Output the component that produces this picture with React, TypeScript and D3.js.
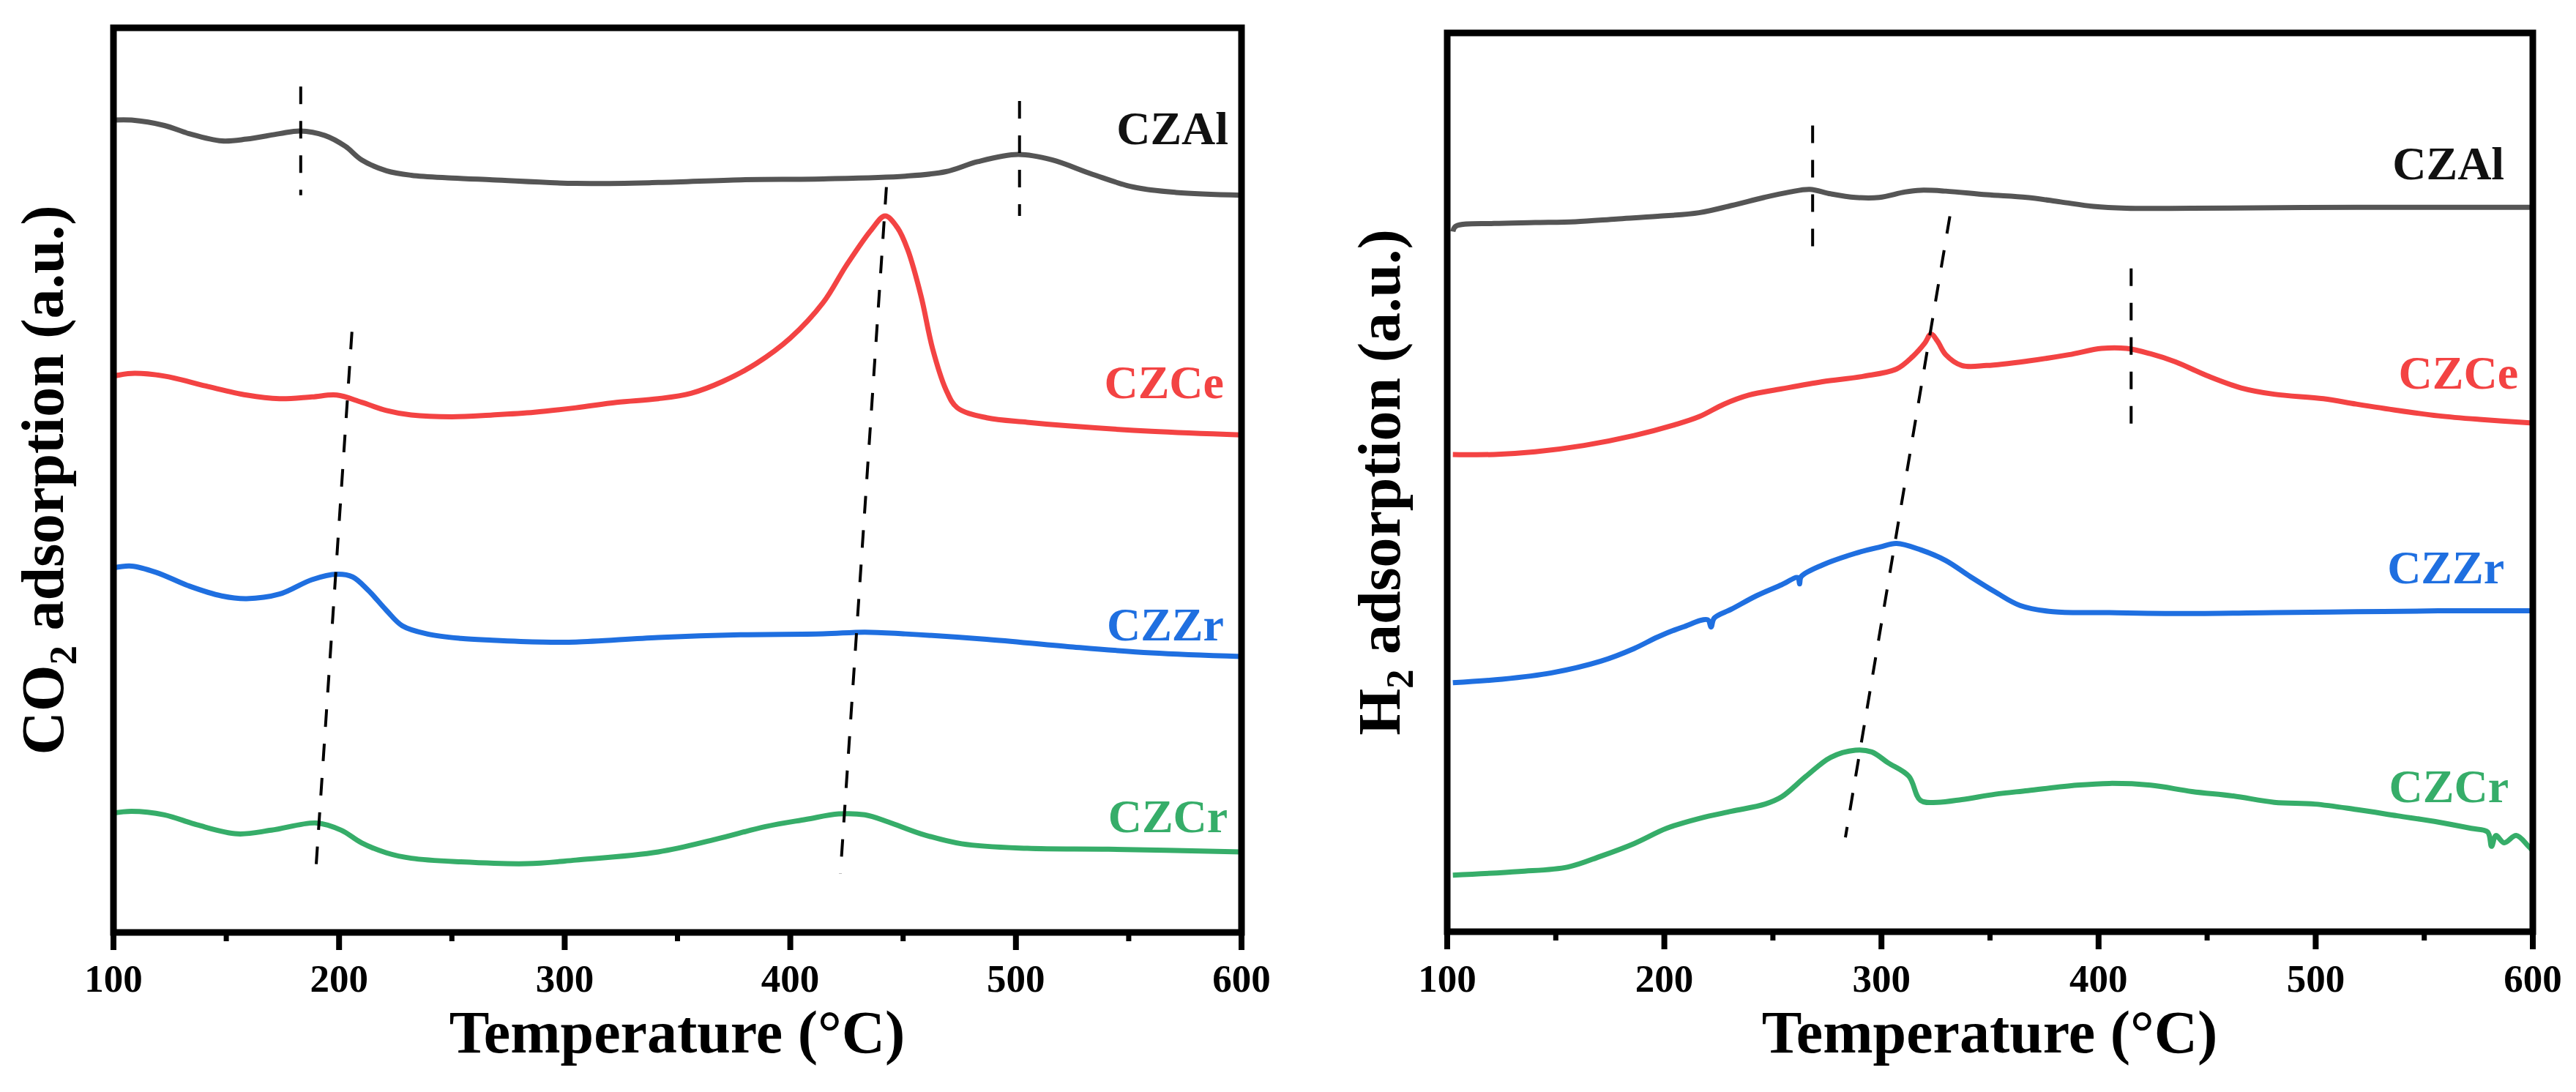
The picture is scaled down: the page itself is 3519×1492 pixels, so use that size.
import { useRef, useEffect } from "react";
import * as d3 from "d3";

type Pt = [number, number];

const tempTicks = [100, 200, 300, 400, 500, 600];
const minorTicks = [150, 250, 350, 450, 550];
const sampleNames = ["CZAl", "CZCe", "CZZr", "CZCr"];
const lineColors = ["#555555", "#f34343", "#1f6fe0", "#36ad69"];
const labelColors = ["#111111", "#f34343", "#1f6fe0", "#36ad69"];

// CO2-TPD traces, [temperature °C, intensity a.u.]
const co2CZAl: Pt[] = [
  [100, 89.8], [108, 89.8], [122.6, 89.2], [133.5, 88.3], [148, 87.5], [159, 87.7],
  [173.6, 88.3], [182.7, 88.6], [193.7, 88.1], [202.8, 86.9], [210, 85.4], [221, 84.2],
  [232, 83.7], [250, 83.4], [268, 83.2], [305, 82.8], [341.5, 82.9], [378, 83.2],
  [414.5, 83.3], [451, 83.6], [469, 84.1], [483, 85.2], [501, 86.0], [516, 85.4],
  [534, 83.8], [552, 82.4], [571, 81.8], [600, 81.5],
];
const co2CZCe: Pt[] = [
  [100, 61.5], [108, 61.8], [122.6, 61.5], [141, 60.4], [159, 59.4], [173.6, 59.0],
  [188, 59.2], [199, 59.4], [210, 58.6], [221, 57.7], [232, 57.2], [250, 57.0],
  [268, 57.2], [286.6, 57.5], [305, 58.0], [323, 58.6], [341.5, 59.0], [356, 59.6],
  [370, 60.9], [385, 62.9], [400, 65.7], [414.5, 69.6], [425, 73.8], [436, 77.7],
  [442, 79.2], [447.5, 77.9], [452, 75.5], [458, 70.3], [463, 64.6], [469, 60.0],
  [474, 58.0], [487, 56.9], [505, 56.4], [523, 56.0], [560, 55.4], [600, 55.0],
];
const co2CZZr: Pt[] = [
  [100, 40.3], [108, 40.5], [119, 39.8], [133.5, 38.3], [148, 37.2], [159, 36.9],
  [173.6, 37.4], [188, 39.0], [199, 39.6], [206, 39.3], [213, 37.8], [221, 35.6],
  [228, 33.9], [239, 33.0], [254, 32.5], [268, 32.3], [290, 32.1], [305, 32.1],
  [341.5, 32.6], [378, 32.9], [414.5, 33.0], [433, 33.2], [451, 33.0], [487, 32.4],
  [523, 31.6], [560, 30.9], [600, 30.5],
];
const co2CZCr: Pt[] = [
  [100, 13.2], [108, 13.4], [122.6, 13.0], [137, 11.9], [155, 10.9], [170, 11.3],
  [190, 12.1], [201, 11.3], [210, 9.9], [221, 8.8], [232, 8.2], [254, 7.8],
  [283, 7.6], [305, 8.0], [341.5, 8.9], [367, 10.3], [389, 11.7], [407, 12.5],
  [421.5, 13.1], [433, 13.0], [443.6, 12.2], [458, 10.9], [476, 9.8], [505, 9.3],
  [541, 9.2], [600, 8.9],
];

// H2-TPD traces
const h2CZAl: Pt[] = [
  [102.6, 77.9], [104, 78.5], [121.6, 78.8], [140.5, 78.9], [159, 79.0], [178, 79.3],
  [197, 79.6], [216, 80.0], [231, 80.8], [246, 81.7], [257.7, 82.3], [267, 82.6],
  [276.6, 82.1], [288, 81.7], [299, 81.7], [310.7, 82.3], [318, 82.5], [329.6, 82.4],
  [348.5, 82.0], [367, 81.7], [382.5, 81.2], [397.6, 80.7], [412.8, 80.5], [443, 80.5],
  [518.7, 80.6], [600, 80.6],
];
const h2CZCe: Pt[] = [
  [102.6, 53.1], [121.6, 53.1], [140.5, 53.4], [163, 54.1], [186, 55.2], [204.8, 56.4],
  [216, 57.3], [227.5, 58.7], [238.8, 59.7], [254, 60.4], [272.8, 61.2], [291.7, 61.8],
  [306.9, 62.6], [314.4, 64.0], [320, 65.5], [322.8, 66.5], [325.8, 65.7], [329.6, 64.2],
  [337, 63.0], [348.5, 63.0], [367.4, 63.5], [386.3, 64.2], [401.4, 64.9], [412.8, 64.9],
  [424, 64.3], [435.5, 63.4], [450.6, 61.8], [465.7, 60.5], [480.9, 59.8], [503.6, 59.3],
  [518.7, 58.7], [537.6, 58.0], [556.5, 57.4], [575.4, 57.0], [600, 56.6],
];
const h2CZZr: Pt[] = [
  [102.6, 27.7], [125.3, 28.1], [148, 28.8], [170.7, 30.1], [186, 31.5], [197, 32.8],
  [208.5, 33.9], [220, 34.7], [221.5, 33.9], [223, 34.9], [231, 35.9], [242.6, 37.4],
  [254, 38.6], [261.5, 39.4], [262.3, 38.7], [263, 39.5], [272.8, 40.8], [288, 42.1],
  [299.3, 42.8], [306.9, 43.2], [318, 42.5], [329.6, 41.3], [341, 39.5], [352.4, 37.8],
  [363.8, 36.3], [379, 35.6], [405, 35.5], [443, 35.4], [480.9, 35.5], [518.7, 35.6],
  [556.5, 35.7], [600, 35.7],
];
const h2CZCr: Pt[] = [
  [102.6, 6.3], [133, 6.7], [155.6, 7.2], [170.7, 8.4], [186, 9.8], [201, 11.5],
  [216, 12.6], [231, 13.4], [246.4, 14.2], [254, 15.0], [265.3, 17.3], [276.6, 19.4],
  [288, 20.2], [295.5, 20.0], [303, 18.8], [312.6, 17.3], [318, 14.6], [325.8, 14.4],
  [337, 14.7], [352.4, 15.3], [367.4, 15.7], [390, 16.3], [405, 16.5], [424, 16.3],
  [443, 15.6], [462, 15.1], [480.9, 14.4], [499.6, 14.2], [518.7, 13.6], [537.6, 12.9],
  [556.5, 12.2], [571.6, 11.5], [579.2, 11.1], [581, 9.5], [583, 10.7], [586.8, 9.9],
  [592.4, 10.7], [598, 9.5], [600, 9.0],
];

// guide lines through the peak maxima, [[t1, v1], [t2, v2]]
const co2Guides: [Pt, Pt][] = [
  [[183, 93.5], [183, 81.5]],
  [[501.6, 91.9], [501.6, 79.2]],
  [[205.7, 66.4], [189.7, 6.9]],
  [[442.6, 82.4], [422.2, 6.5]],
];
const h2Guides: [Pt, Pt][] = [
  [[268.3, 89.7], [268.3, 76.2]],
  [[415, 73.8], [415, 56.4]],
  [[331.5, 79.6], [283.4, 10.5]],
];

// label anchor (right end of text) in data units
const co2LabelPos: Pt[] = [[594.2, 87.1], [592.2, 59.1], [592.2, 32.3], [593.9, 11.1]];
const h2LabelPos: Pt[] = [[586.9, 83.7], [593.3, 60.4], [586.9, 38.8], [588.9, 14.4]];

const FONT = "'Liberation Serif', 'Times New Roman', serif";

export default function App() {
  const svgRef = useRef<SVGSVGElement | null>(null);

  useEffect(() => {
    const svg = d3.select(svgRef.current);
    svg.selectAll("*").remove();

    const panels = [
      {
        box: { left: 155, top: 38, right: 1696, bottom: 1274 },
        series: [co2CZAl, co2CZCe, co2CZZr, co2CZCr],
        guides: co2Guides,
        labels: co2LabelPos,
        gas: "CO",
        yTitleX: 86,
        xTitleX: 925,
      },
      {
        box: { left: 1977, top: 45, right: 3460, bottom: 1273 },
        series: [h2CZAl, h2CZCe, h2CZZr, h2CZCr],
        guides: h2Guides,
        labels: h2LabelPos,
        gas: "H",
        yTitleX: 1912,
        xTitleX: 2718,
      },
    ];

    panels.forEach((p) => {
      const { left, top, right, bottom } = p.box;
      const x = d3.scaleLinear().domain([100, 600]).range([left, right]);
      const y = d3.scaleLinear().domain([0, 100]).range([bottom, top]);

      const line = d3
        .line<Pt>()
        .x((d) => x(d[0]))
        .y((d) => y(d[1]))
        .curve(d3.curveCatmullRom.alpha(0.5));

      p.series.forEach((s, i) => {
        svg
          .append("path")
          .datum(s)
          .attr("fill", "none")
          .attr("stroke", lineColors[i])
          .attr("stroke-width", 7)
          .attr("stroke-linejoin", "round")
          .attr("d", line);
      });

      p.guides.forEach((g) => {
        svg
          .append("line")
          .attr("x1", x(g[0][0]))
          .attr("y1", y(g[0][1]))
          .attr("x2", x(g[1][0]))
          .attr("y2", y(g[1][1]))
          .attr("stroke", "#000")
          .attr("stroke-width", 4)
          .attr("stroke-dasharray", "24 23");
      });

      p.labels.forEach((pos, i) => {
        svg
          .append("text")
          .attr("x", x(pos[0]))
          .attr("y", y(pos[1]))
          .attr("text-anchor", "end")
          .attr("font-family", FONT)
          .attr("font-weight", "bold")
          .attr("font-size", 64)
          .attr("fill", labelColors[i])
          .text(sampleNames[i]);
      });

      // frame
      svg
        .append("rect")
        .attr("x", left)
        .attr("y", top)
        .attr("width", right - left)
        .attr("height", bottom - top)
        .attr("fill", "none")
        .attr("stroke", "#000")
        .attr("stroke-width", 9);

      svg
        .append("g")
        .selectAll("line")
        .data(tempTicks)
        .join("line")
        .attr("x1", (d) => x(d))
        .attr("x2", (d) => x(d))
        .attr("y1", bottom)
        .attr("y2", bottom + 24)
        .attr("stroke", "#000")
        .attr("stroke-width", 8);

      svg
        .append("g")
        .selectAll("line")
        .data(minorTicks)
        .join("line")
        .attr("x1", (d) => x(d))
        .attr("x2", (d) => x(d))
        .attr("y1", bottom)
        .attr("y2", bottom + 12)
        .attr("stroke", "#000")
        .attr("stroke-width", 7);

      svg
        .append("g")
        .selectAll("text")
        .data(tempTicks)
        .join("text")
        .attr("x", (d) => x(d))
        .attr("y", 1355)
        .attr("text-anchor", "middle")
        .attr("font-family", FONT)
        .attr("font-weight", "bold")
        .attr("font-size", 53)
        .text((d) => d);

      svg
        .append("text")
        .attr("x", p.xTitleX)
        .attr("y", 1438)
        .attr("text-anchor", "middle")
        .attr("font-family", FONT)
        .attr("font-weight", "bold")
        .attr("font-size", 82)
        .text("Temperature (°C)");

      const yt = svg
        .append("text")
        .attr("transform", `translate(${p.yTitleX},${(top + bottom) / 2}) rotate(-90)`)
        .attr("text-anchor", "middle")
        .attr("font-family", FONT)
        .attr("font-weight", "bold")
        .attr("font-size", 82);
      yt.append("tspan").text(p.gas);
      yt.append("tspan").attr("font-size", 53).attr("dy", 18).text("2");
      yt.append("tspan").attr("dy", -18).text(" adsorption (a.u.)");
    });
  }, []);

  return (
    <svg
      ref={svgRef}
      width={3519}
      height={1492}
      style={{ position: "absolute", top: 0, left: 0, background: "#fff" }}
    />
  );
}
